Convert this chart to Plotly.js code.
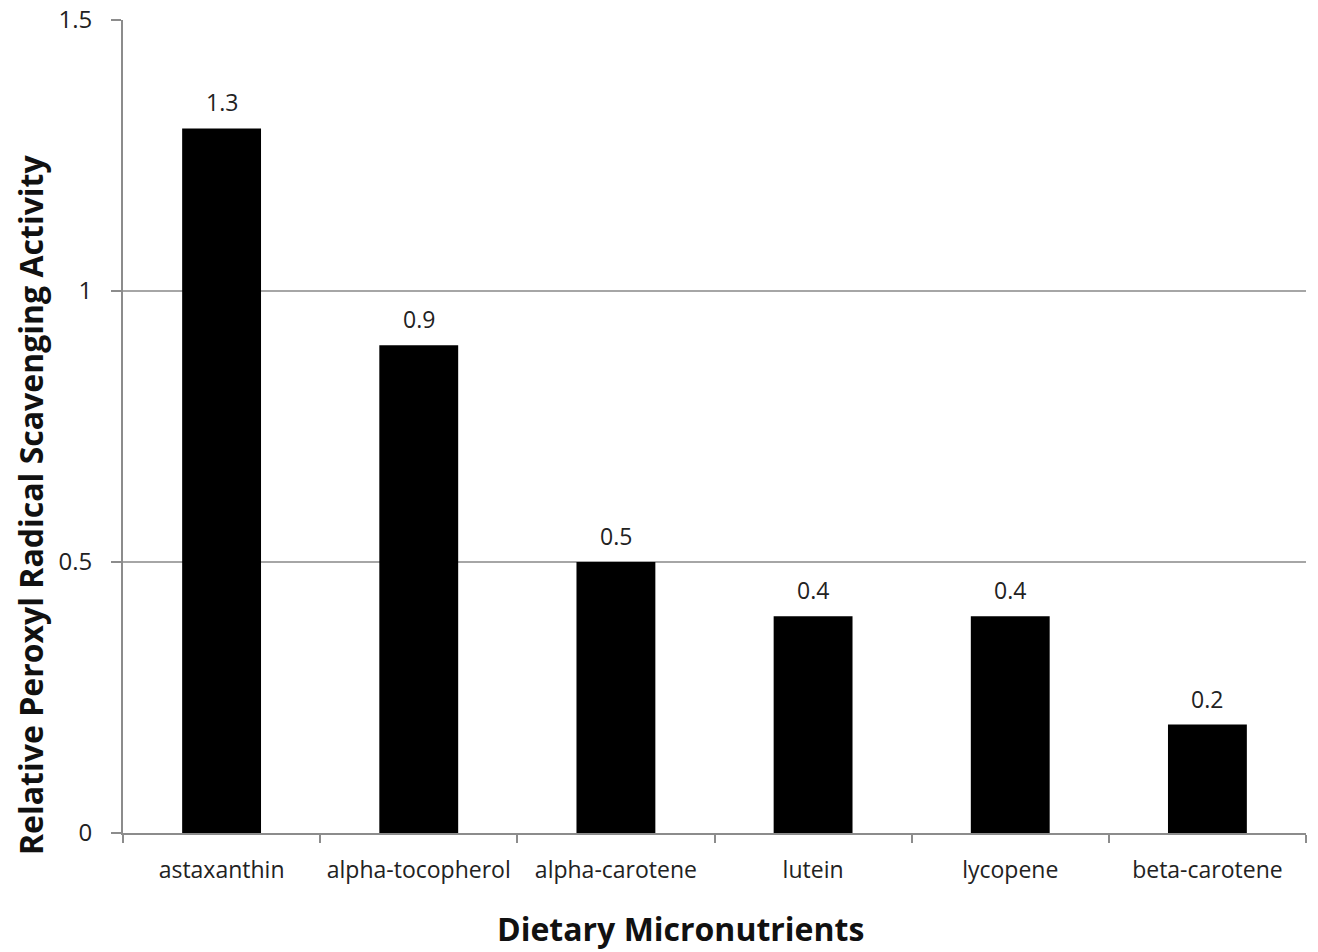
<!DOCTYPE html>
<html>
<head>
<meta charset="utf-8">
<script src="https://cdn.plot.ly/plotly-3.0.1.min.js"></script>
<style>html,body{margin:0;padding:0;background:#fff;}#chart{width:1318px;height:952px;}</style>
</head>
<body>
<div id="chart"></div>
<script>
var categories = ["astaxanthin", "alpha-tocopherol", "alpha-carotene", "lutein", "lycopene", "beta-carotene"];
var values = [1.3, 0.9, 0.5, 0.4, 0.4, 0.2];
var valueLabels = ["1.3", "0.9", "0.5", "0.4", "0.4", "0.2"];
var yTickVals = [0, 0.5, 1, 1.5];
var yTickText = ["0", "0.5", "1", "1.5"];
var xTitle = "Dietary Micronutrients";
var yTitle = "Relative Peroxyl Radical Scavenging Activity";

var font = "Open Sans, Lato, sans-serif";

var trace = {
  type: "bar",
  x: categories,
  y: values,
  marker: {color: "#000000"},
  width: 0.4,
  hoverinfo: "x+y"
};

var labelAnnotations = categories.map(function (c, i) {
  return {
    x: c, y: values[i], xref: "x", yref: "y",
    text: valueLabels[i],
    showarrow: false,
    yanchor: "bottom",
    yshift: 8,
    font: {family: font, size: 23, color: "#222"}
  };
});

var layout = {
  width: 1318,
  height: 952,
  margin: {l: 123, r: 12, t: 20, b: 119},
  paper_bgcolor: "#ffffff",
  plot_bgcolor: "#ffffff",
  showlegend: false,
  font: {family: font, color: "#222"},
  xaxis: {
    type: "category",
    showline: true,
    linecolor: "#8c8c8c",
    linewidth: 2,
    ticks: "outside",
    tickson: "boundaries",
    ticklen: 8,
    tickcolor: "#8c8c8c",
    tickwidth: 2,
    showgrid: false,
    tickfont: {family: font, size: 23, color: "#222"},
    ticklabelstandoff: 15,
    zeroline: false
  },
  yaxis: {
    range: [0, 1.5],
    tickvals: yTickVals,
    ticktext: yTickText,
    showline: true,
    linecolor: "#8c8c8c",
    linewidth: 2,
    ticks: "outside",
    ticklen: 10,
    tickcolor: "#8c8c8c",
    tickwidth: 2,
    showgrid: true,
    gridcolor: "#a6a6a6",
    gridwidth: 1.5,
    zeroline: false,
    tickfont: {family: font, size: 24, color: "#222"},
    ticklabelstandoff: 14
  },
  annotations: labelAnnotations.concat([
    {
      text: "<b>" + xTitle + "</b>",
      xref: "paper", yref: "paper",
      x: (680 - 123) / (1306 - 123), y: -(928 - 833) / (833 - 20),
      xanchor: "center", yanchor: "middle",
      showarrow: false,
      font: {family: font, size: 32, color: "#111"}
    },
    {
      text: "<b>" + yTitle + "</b>",
      xref: "paper", yref: "paper",
      x: -(123 - 30) / (1306 - 123), y: (833 - 505) / (833 - 20),
      xanchor: "center", yanchor: "middle",
      textangle: -90,
      showarrow: false,
      font: {family: font, size: 32, color: "#111"}
    }
  ])
};

Plotly.newPlot("chart", [trace], layout, {displayModeBar: false, staticPlot: true});
</script>
</body>
</html>
